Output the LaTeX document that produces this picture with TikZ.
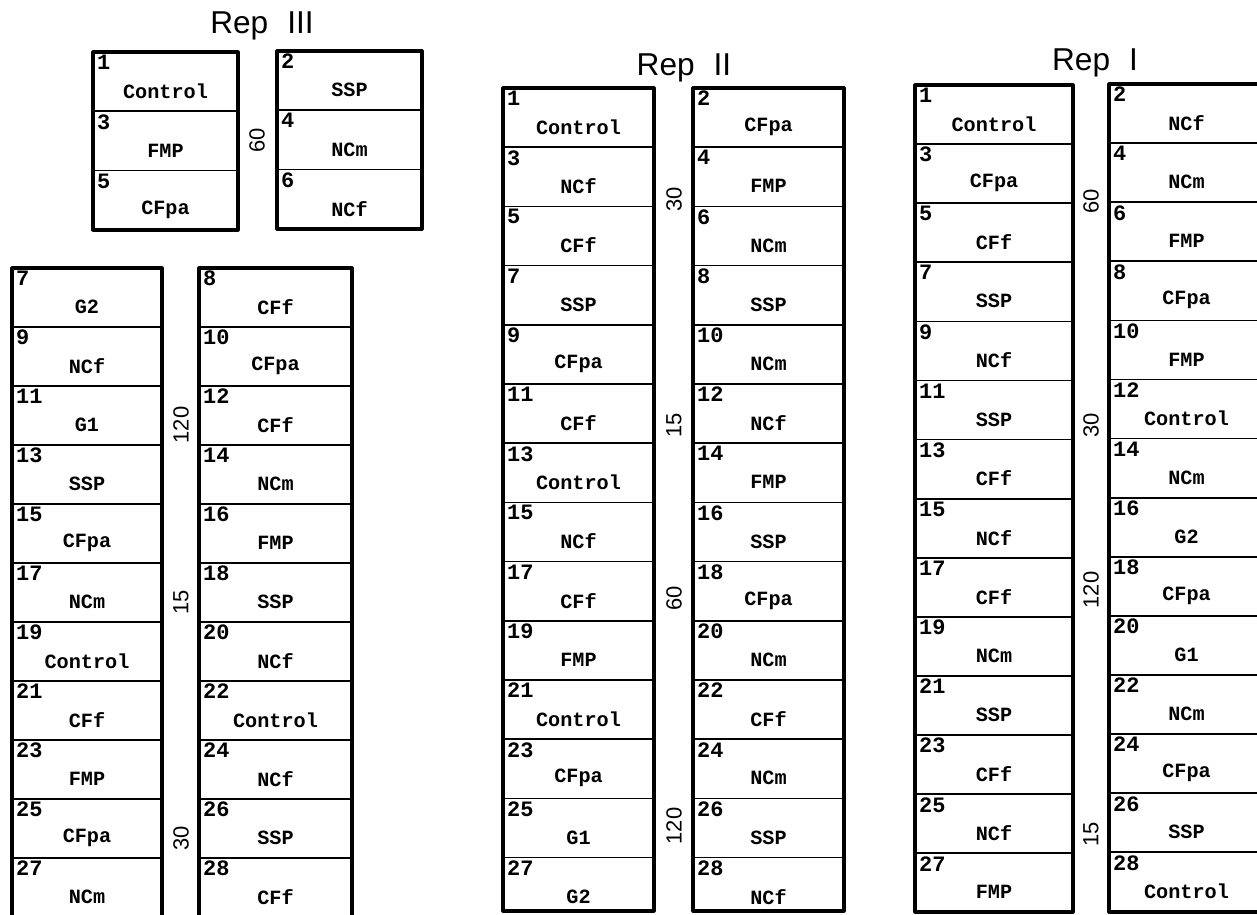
\documentclass[tikz,border=0pt]{standalone}
\usepackage{fontspec}
\setmainfont{Liberation Sans}
\newfontfamily\plotfont{Liberation Mono}
\newcommand{\plotcolumn}[7]{%
	\draw[colframe] (#1,#2) rectangle ({#1+#3},#5);
	\foreach \n/\t [count=\i from 0] in {#7}{
		\draw[plotsep] (#1,{#2+\i*#4}) -- ++(#3,0);
		\node[plotnum] (#6n\n) at ({#1+2},{#2+\i*#4+1}) {\n};
		\node[plottrt] (#6t\n) at ({#1+#3/2},{#2+(\i+0.66)*#4}) {\t};
	}}
\begin{document}
\begin{tikzpicture}[x=0.02cm, y=-0.02cm, line join=round, line cap=round,
	colframe/.style={line width=1.8pt},
	plotsep/.style={line width=1pt},
	plotnum/.style={anchor=north west, inner sep=1pt, font=\plotfont\bfseries\fontsize{12.5}{13}\selectfont},
	plottrt/.style={inner sep=0pt, font=\plotfont\bfseries\fontsize{11.5}{12}\selectfont},
	plotlen/.style={rotate=90, inner sep=0pt, font=\fontsize{12.5}{13}\selectfont},
	reptitle/.style={inner sep=0pt, font=\fontsize{18}{20}\selectfont}]
	\useasboundingbox (0,0) rectangle (1257,914);
	\node[reptitle] (rep3) at (262,26) {Rep\hspace{0.6em}III};
	\node[reptitle] (rep2) at (684,68) {Rep\hspace{0.6em}II};
	\node[reptitle] (rep1) at (1095,63) {Rep\hspace{0.6em}I};
	\plotcolumn{93}{52}{145}{59.3}{230}{ta}{1/Control,3/FMP,5/CFpa}
	\plotcolumn{277}{51}{145}{59.3}{229}{tb}{2/SSP,4/NCm,6/NCf}
	\plotcolumn{12}{268}{150}{59}{930}{ua}{7/G2,9/NCf,11/G1,13/SSP,15/CFpa,17/NCm,19/Control,21/CFf,23/FMP,25/CFpa,27/NCm}
	\plotcolumn{199}{268}{153}{59}{930}{ub}{8/CFf,10/CFpa,12/CFf,14/NCm,16/FMP,18/SSP,20/NCf,22/Control,24/NCf,26/SSP,28/CFf}
	\plotcolumn{503}{88}{151}{59.2}{911}{va}{1/Control,3/NCf,5/CFf,7/SSP,9/CFpa,11/CFf,13/Control,15/NCf,17/CFf,19/FMP,21/Control,23/CFpa,25/G1,27/G2}
	\plotcolumn{693}{88}{151}{59.2}{911}{vb}{2/CFpa,4/FMP,6/NCm,8/SSP,10/NCm,12/NCf,14/FMP,16/SSP,18/CFpa,20/NCm,22/CFf,24/NCm,26/SSP,28/NCf}
	\plotcolumn{915}{85}{158}{59.1}{912}{wa}{1/Control,3/CFpa,5/CFf,7/SSP,9/NCf,11/SSP,13/CFf,15/NCf,17/CFf,19/NCm,21/SSP,23/CFf,25/NCf,27/FMP}
	\plotcolumn{1109}{84}{155}{59.1}{912}{wb}{2/NCf,4/NCm,6/FMP,8/CFpa,10/FMP,12/Control,14/NCm,16/G2,18/CFpa,20/G1,22/NCm,24/CFpa,26/SSP,28/Control}
	\foreach \x/\y/\d [count=\k] in {257/140/60,181/425/120,181/602/15,181/838/30,
		674/199/30,674/425/15,674/598/60,674/826/120,
		1091/201/60,1091/425/30,1091/590/120,1091/834/15}
	\node[plotlen] (len\k) at (\x,\y) {\d};
\end{tikzpicture}
\end{document}
